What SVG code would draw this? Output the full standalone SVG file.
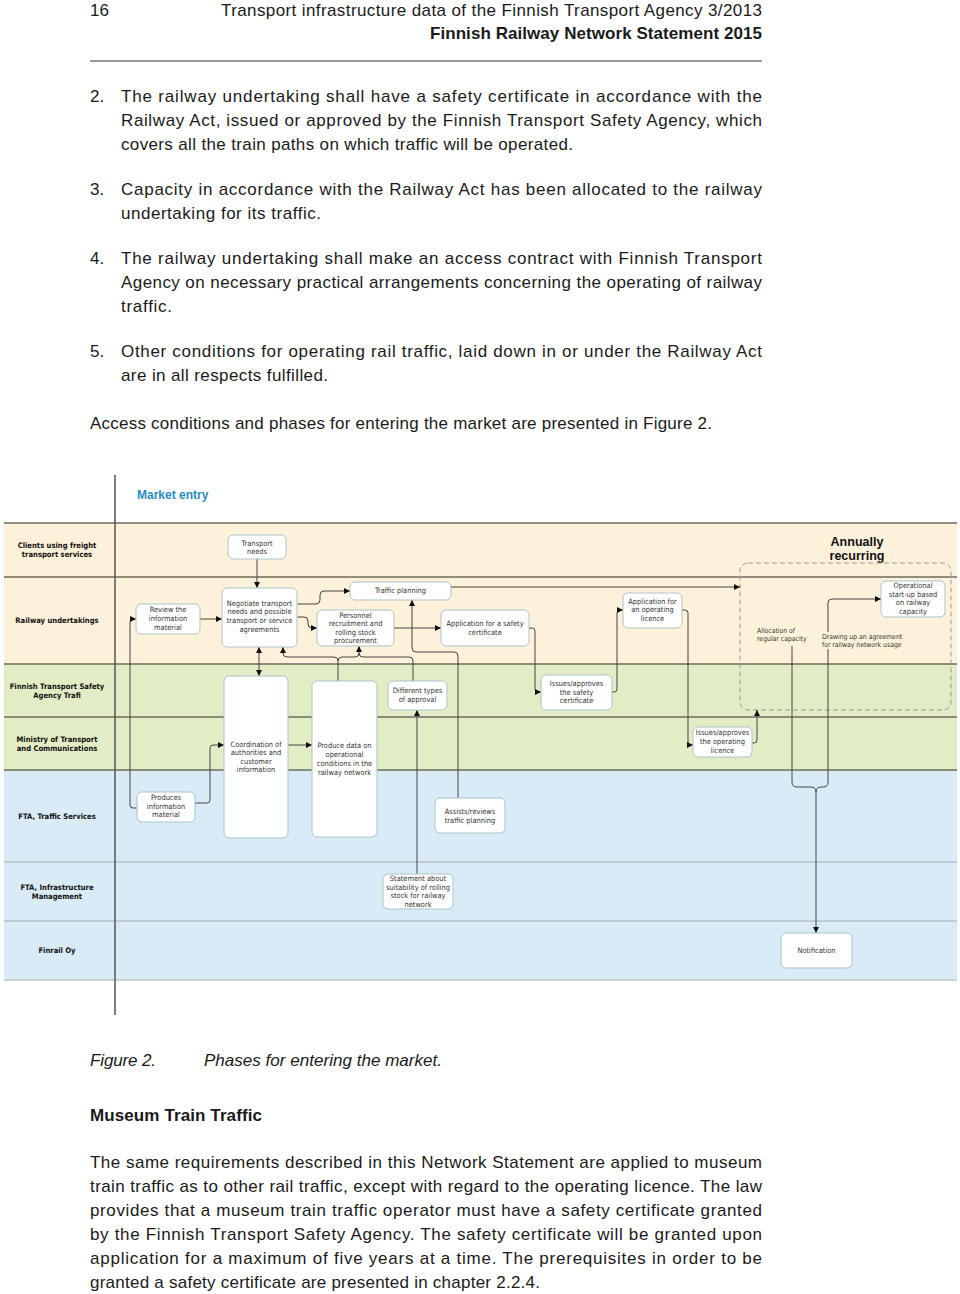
<svg xmlns="http://www.w3.org/2000/svg" width="960" height="1294" viewBox="0 0 960 1294">
<defs>
<style>
.body{font-family:"Liberation Sans",Arial,sans-serif;font-size:17px;fill:#1a1a1a}
.bold{font-weight:bold}
.it{font-style:italic}
.lane{font-family:"DejaVu Sans Condensed","DejaVu Sans",sans-serif;font-weight:bold;font-size:7.6px;fill:#111;text-anchor:middle}
.nt{font-family:"DejaVu Sans Condensed","DejaVu Sans",sans-serif;font-size:7.4px;fill:#333;text-anchor:middle}
.ft{font-family:"DejaVu Sans Condensed","DejaVu Sans",sans-serif;font-size:6.8px;fill:#333}
.node{fill:#fff;stroke:#a9c4cb;stroke-width:1}
.sep{stroke:#6b6b5b;stroke-width:1.5}
.sepb{stroke:#a5aeb0;stroke-width:1}
.con{fill:none;stroke:#444;stroke-width:1}
</style>
<marker id="ah" markerUnits="userSpaceOnUse" markerWidth="6" markerHeight="6" refX="6" refY="3" orient="auto-start-reverse"><path d="M0,0 L6,3 L0,6 z" fill="#111"/></marker>
</defs>
<rect width="960" height="1294" fill="#fff"/>

<!-- page header -->
<text class="body" x="90" y="16">16</text>
<text class="body" x="221" y="16" textLength="541">Transport infrastructure data of the Finnish Transport Agency 3/2013</text>
<text class="body bold" x="430" y="39" textLength="332">Finnish Railway Network Statement 2015</text>
<line x1="90" y1="61" x2="762" y2="61" stroke="#9a9a9a" stroke-width="2"/>

<!-- body text -->
<text class="body" x="90" y="102">2.</text>
<text class="body" x="121" y="102" textLength="641">The railway undertaking shall have a safety certificate in accordance with the</text>
<text class="body" x="121" y="126" textLength="641">Railway Act, issued or approved by the Finnish Transport Safety Agency, which</text>
<text class="body" x="121" y="150" textLength="452">covers all the train paths on which traffic will be operated.</text>
<text class="body" x="90" y="195">3.</text>
<text class="body" x="121" y="195" textLength="641">Capacity in accordance with the Railway Act has been allocated to the railway</text>
<text class="body" x="121" y="219" textLength="200">undertaking for its traffic.</text>
<text class="body" x="90" y="264">4.</text>
<text class="body" x="121" y="264" textLength="641">The railway undertaking shall make an access contract with Finnish Transport</text>
<text class="body" x="121" y="288" textLength="641">Agency on necessary practical arrangements concerning the operating of railway</text>
<text class="body" x="121" y="312" textLength="51">traffic.</text>
<text class="body" x="90" y="357">5.</text>
<text class="body" x="121" y="357" textLength="641">Other conditions for operating rail traffic, laid down in or under the Railway Act</text>
<text class="body" x="121" y="381" textLength="207">are in all respects fulfilled.</text>
<text class="body" x="90" y="429" textLength="622">Access conditions and phases for entering the market are presented in Figure 2.</text>

<!-- diagram -->
<g id="lanes">
<rect x="4" y="523" width="953" height="141" fill="#fdf2d9"/>
<rect x="4" y="664" width="953" height="106" fill="#e3edc5"/>
<rect x="4" y="770" width="953" height="210" fill="#d8ebf6"/>
<line class="sep" x1="4" y1="523" x2="957" y2="523" stroke="#666"/>
<line class="sep" x1="4" y1="577" x2="957" y2="577"/>
<line class="sep" x1="4" y1="664" x2="957" y2="664"/>
<line class="sep" x1="4" y1="717" x2="957" y2="717"/>
<line class="sep" x1="4" y1="770" x2="957" y2="770"/>
<line class="sepb" x1="4" y1="862" x2="957" y2="862"/>
<line class="sepb" x1="4" y1="921" x2="957" y2="921"/>
<line x1="4" y1="980" x2="957" y2="980" stroke="#bfc4c4" stroke-width="1.5"/>
<line x1="115" y1="475" x2="115" y2="1015" stroke="#555" stroke-width="1.5"/>
<text class="lane" x="57" y="547.5">Clients using freight</text>
<text class="lane" x="57" y="557">transport services</text>
<text class="lane" x="57" y="622.5">Railway undertakings</text>
<text class="lane" x="57" y="688.5">Finnish Transport Safety</text>
<text class="lane" x="57" y="698">Agency Trafi</text>
<text class="lane" x="57" y="741.5">Ministry of Transport</text>
<text class="lane" x="57" y="751">and Communications</text>
<text class="lane" x="57" y="818.5">FTA, Traffic Services</text>
<text class="lane" x="57" y="889.5">FTA, Infrastructure</text>
<text class="lane" x="57" y="899">Management</text>
<text class="lane" x="57" y="952.5">Finrail Oy</text>
</g>

<g id="titles">
<text x="137" y="499" font-family="Liberation Sans,Arial,sans-serif" font-weight="bold" font-size="12" fill="#2b8cc0">Market entry</text>
<text x="857" y="546" font-family="Liberation Sans,Arial,sans-serif" font-weight="bold" font-size="12.5" fill="#111" text-anchor="middle">Annually</text>
<text x="857" y="559.5" font-family="Liberation Sans,Arial,sans-serif" font-weight="bold" font-size="12.5" fill="#111" text-anchor="middle">recurring</text>
<rect id="annual-frame" x="740" y="563" width="211" height="147" rx="8" fill="none" stroke="#9a9a9a" stroke-width="1" stroke-dasharray="5,3"/>
</g>

<g id="connectors">
<path class="con" d="M257,559 V588" marker-end="url(#ah)"/>
<path class="con" d="M200,619 H222" marker-end="url(#ah)"/>
<path class="con" d="M137,808 H133 Q130,808 130,805 V622 Q130,619 133,619 H136" marker-end="url(#ah)"/>
<path class="con" d="M195,803 H207 Q210,803 210,800 V748 Q210,745 213,745 H224" marker-end="url(#ah)"/>
<path class="con" d="M259,647 V676" marker-start="url(#ah)" marker-end="url(#ah)"/>
<path class="con" d="M288,745 H312" marker-end="url(#ah)"/>
<path class="con" d="M297,604 H316 Q320,604 320,600 V595 Q320,591 324,591 H350" marker-end="url(#ah)"/>
<path class="con" d="M297,617 H304 Q308,617 308,621 V624 Q308,628 312,628 H317" marker-end="url(#ah)"/>
<path class="con" d="M394,628 H441" marker-end="url(#ah)"/>
<path class="con" d="M451,587 H740" marker-end="url(#ah)"/>
<path class="con" d="M338,681 V661 Q338,657 334,657 H287 Q283,657 283,653 V647" marker-end="url(#ah)"/>
<path class="con" d="M338,661 Q338,657 342,657 H355 Q359,657 359,653 V646" marker-end="url(#ah)"/>
<path class="con" d="M413,681 V661 Q413,657 409,657 H363 Q359,657 359,653"/>
<path class="con" d="M458,798 V656 Q458,652 454,652 H416 Q412,652 412,648 V600" marker-end="url(#ah)"/>
<path class="con" d="M417,874 V710" marker-end="url(#ah)"/>
<path class="con" d="M529,628 H532 Q535,628 535,631 V689 Q535,692 538,692 H541" marker-end="url(#ah)"/>
<path class="con" d="M612,692 H614 Q617,692 617,689 V613 Q617,610 620,610 H623" marker-end="url(#ah)"/>
<path class="con" d="M682,610 H685 Q688,610 688,613 V742 Q688,745 691,745 H693" marker-end="url(#ah)"/>
<path class="con" d="M752,743 H754 Q757,743 757,740 V710" marker-end="url(#ah)"/>
<path class="con" d="M792,646 V782 Q792,787 797,787 H811 Q816,787 816,792 V933" marker-end="url(#ah)"/>
<path class="con" d="M816,792 Q816,787 821,787 H823 Q828,787 828,782 V603 Q828,599 832,599 H881" marker-end="url(#ah)"/>
</g>

<g id="labels">
<text class="ft" x="757" y="632.5">Allocation of</text>
<text class="ft" x="757" y="640.5">regular capacity</text>
<rect x="821" y="632" width="86" height="17" fill="#fdf2d9"/>
<text class="ft" x="822" y="638.5">Drawing up an agreement</text>
<text class="ft" x="822" y="646.5">for railway network usage</text>
</g>

<g id="n-transport-needs"><rect class="node" x="228" y="535" width="58" height="24" rx="5"/><text class="nt" x="257" y="545.5">Transport</text><text class="nt" x="257" y="553.5">needs</text></g>
<g id="n-review"><rect class="node" x="136" y="604" width="64" height="30" rx="5"/><text class="nt" x="168" y="611.5">Review the</text><text class="nt" x="168" y="620.5">information</text><text class="nt" x="168" y="629.5">material</text></g>
<g id="n-negotiate"><rect class="node" x="222" y="588" width="75" height="59" rx="5"/><text class="nt" x="259.5" y="605.5">Negotiate transport</text><text class="nt" x="259.5" y="614.3">needs and possible</text><text class="nt" x="259.5" y="623.1">transport or service</text><text class="nt" x="259.5" y="631.9">agreements</text></g>
<g id="n-traffic-planning"><rect class="node" x="350" y="582" width="101" height="18" rx="5"/><text class="nt" x="400.5" y="593">Traffic planning</text></g>
<g id="n-personnel"><rect class="node" x="317" y="610" width="77" height="36" rx="5"/><text class="nt" x="355.5" y="617.5">Personnel</text><text class="nt" x="355.5" y="626">recruitment and</text><text class="nt" x="355.5" y="634.5">rolling stock</text><text class="nt" x="355.5" y="643">procurement</text></g>
<g id="n-app-safety"><rect class="node" x="441" y="610" width="88" height="36" rx="5"/><text class="nt" x="485" y="625.5">Application for a safety</text><text class="nt" x="485" y="634.5">certificate</text></g>
<g id="n-app-licence"><rect class="node" x="623" y="593" width="59" height="35" rx="5"/><text class="nt" x="652.5" y="603.5">Application for</text><text class="nt" x="652.5" y="612">an operating</text><text class="nt" x="652.5" y="620.5">licence</text></g>
<g id="n-operational"><rect class="node" x="881" y="581" width="64" height="36" rx="5"/><text class="nt" x="913" y="588">Operational</text><text class="nt" x="913" y="596.5">start-up based</text><text class="nt" x="913" y="605">on railway</text><text class="nt" x="913" y="613.5">capacity</text></g>
<g id="n-coordination"><rect class="node" x="224" y="676" width="64" height="162" rx="5"/><text class="nt" x="256" y="746.5">Coordination of</text><text class="nt" x="256" y="755">authorities and</text><text class="nt" x="256" y="763.5">customer</text><text class="nt" x="256" y="772">information</text></g>
<g id="n-produce-data"><rect class="node" x="312" y="681" width="65" height="156" rx="5"/><text class="nt" x="344.5" y="748">Produce data on</text><text class="nt" x="344.5" y="756.5">operational</text><text class="nt" x="344.5" y="765.5">conditions in the</text><text class="nt" x="344.5" y="774.5">railway network</text></g>
<g id="n-approval-types"><rect class="node" x="388" y="681" width="59" height="29" rx="5"/><text class="nt" x="417.5" y="693">Different types</text><text class="nt" x="417.5" y="701.5">of approval</text></g>
<g id="n-issues-safety"><rect class="node" x="541" y="675" width="71" height="35" rx="5"/><text class="nt" x="576.5" y="685.5">Issues/approves</text><text class="nt" x="576.5" y="694.5">the safety</text><text class="nt" x="576.5" y="703">certificate</text></g>
<g id="n-issues-licence"><rect class="node" x="693" y="727" width="59" height="30" rx="5"/><text class="nt" x="722.5" y="734.5">Issues/approves</text><text class="nt" x="722.5" y="744">the operating</text><text class="nt" x="722.5" y="752.5">licence</text></g>
<g id="n-produces-info"><rect class="node" x="137" y="792" width="58" height="30" rx="5"/><text class="nt" x="166" y="800">Produces</text><text class="nt" x="166" y="808.5">information</text><text class="nt" x="166" y="817">material</text></g>
<g id="n-assists"><rect class="node" x="435" y="798" width="70" height="35" rx="5"/><text class="nt" x="470" y="813.5">Assists/reviews</text><text class="nt" x="470" y="822.5">traffic planning</text></g>
<g id="n-statement"><rect class="node" x="383" y="874" width="70" height="35" rx="5"/><text class="nt" x="418" y="880.5">Statement about</text><text class="nt" x="418" y="889.5">suitability of rolling</text><text class="nt" x="418" y="898">stock for railway</text><text class="nt" x="418" y="906.5">network</text></g>
<g id="n-notification"><rect class="node" x="781" y="933" width="71" height="35" rx="5"/><text class="nt" x="816.5" y="952.5">Notification</text></g>

<!-- caption and following text -->
<text class="body it" x="90" y="1066" textLength="66">Figure 2.</text>
<text class="body it" x="204" y="1066" textLength="238">Phases for entering the market.</text>
<text class="body bold" x="90" y="1121" textLength="172">Museum Train Traffic</text>
<text class="body" x="90" y="1168" textLength="672">The same requirements described in this Network Statement are applied to museum</text>
<text class="body" x="90" y="1192" textLength="672">train traffic as to other rail traffic, except with regard to the operating licence. The law</text>
<text class="body" x="90" y="1216" textLength="672">provides that a museum train traffic operator must have a safety certificate granted</text>
<text class="body" x="90" y="1240" textLength="672">by the Finnish Transport Safety Agency. The safety certificate will be granted upon</text>
<text class="body" x="90" y="1264" textLength="672">application for a maximum of five years at a time. The prerequisites in order to be</text>
<text class="body" x="90" y="1288" textLength="450">granted a safety certificate are presented in chapter 2.2.4.</text>
</svg>
